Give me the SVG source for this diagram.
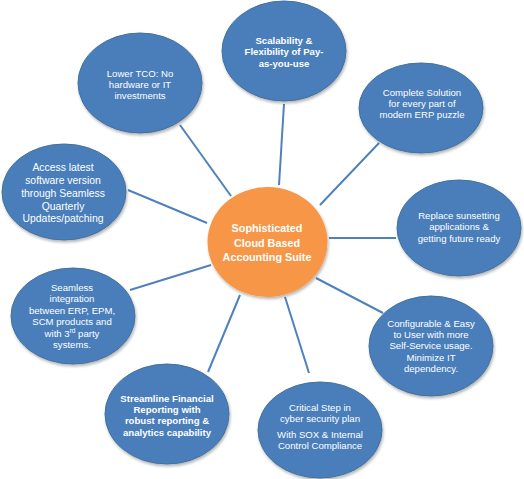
<svg xmlns="http://www.w3.org/2000/svg" width="524" height="479" viewBox="0 0 524 479">
<defs>
<filter id="sh" x="-10%" y="-10%" width="130%" height="130%">
<feGaussianBlur in="SourceAlpha" stdDeviation="1.5"/>
<feOffset dx="1" dy="2" result="b"/>
<feComponentTransfer><feFuncA type="linear" slope="0.3"/></feComponentTransfer>
<feMerge><feMergeNode/><feMergeNode in="SourceGraphic"/></feMerge>
</filter>
</defs>
<style>
.n{fill:#4a7ebb;stroke:#41719c;stroke-width:1;filter:url(#sh)}
.c{fill:#f79646;filter:url(#sh)}
.t{font-family:"Liberation Sans",Arial,sans-serif;font-size:9.6px;fill:#fff;text-anchor:middle}
.b{font-weight:bold}
.ct{font-family:"Liberation Sans",Arial,sans-serif;font-size:10.8px;font-weight:bold;fill:#fff;text-anchor:middle}
.l{stroke:#4f81bd;stroke-width:2;fill:none}
</style>
<rect width="524" height="479" fill="#fff"/>
<g id="connectors">
<line class="l" x1="284" y1="104" x2="279" y2="185"/>
<line class="l" x1="180" y1="125" x2="231" y2="196"/>
<line class="l" x1="379" y1="143" x2="320" y2="205"/>
<line class="l" x1="128" y1="190" x2="207" y2="223"/>
<line class="l" x1="329" y1="238" x2="396" y2="238"/>
<line class="l" x1="130" y1="290" x2="211" y2="265"/>
<line class="l" x1="316" y1="278" x2="383" y2="313"/>
<line class="l" x1="240" y1="295" x2="208" y2="372"/>
<line class="l" x1="285" y1="297" x2="309" y2="373"/>
</g>
<g id="center">
<ellipse class="c" cx="267.5" cy="242" rx="60" ry="55"/>
<text class="ct"><tspan x="267" y="232">Sophisticated</tspan><tspan x="267" y="246.5">Cloud Based</tspan><tspan x="267" y="261">Accounting Suite</tspan></text>
</g>
<g id="scalability">
<ellipse class="n" cx="284" cy="51" rx="62" ry="50"/>
<text class="t b"><tspan x="284" y="43.5">Scalability &amp;</tspan><tspan x="284" y="55">Flexibility of Pay-</tspan><tspan x="284" y="66.5">as-you-use</tspan></text>
</g>
<g id="lower-tco">
<ellipse class="n" cx="140" cy="83" rx="62" ry="50"/>
<text class="t"><tspan x="140" y="76.5">Lower TCO: No</tspan><tspan x="140" y="87.5">hardware or IT</tspan><tspan x="140" y="98.5">investments</tspan></text>
</g>
<g id="complete-solution">
<ellipse class="n" cx="421" cy="108" rx="62" ry="45"/>
<text class="t"><tspan x="422" y="95.5">Complete Solution</tspan><tspan x="422" y="106.5">for every part  of</tspan><tspan x="422" y="118">modern ERP puzzle</tspan></text>
</g>
<g id="access-latest">
<ellipse class="n" cx="64" cy="192" rx="62" ry="48"/>
<text class="t" style="font-size:10.4px"><tspan x="63" y="171">Access latest</tspan><tspan x="63" y="184">software version</tspan><tspan x="63" y="196.5">through Seamless</tspan><tspan x="63" y="209.5">Quarterly</tspan><tspan x="63" y="222">Updates/patching</tspan></text>
</g>
<g id="replace-sunsetting">
<ellipse class="n" cx="459" cy="228" rx="62" ry="48"/>
<text class="t"><tspan x="459" y="219">Replace sunsetting</tspan><tspan x="459" y="230">applications &amp;</tspan><tspan x="459" y="241.5">getting future ready</tspan></text>
</g>
<g id="seamless-integration">
<ellipse class="n" cx="73" cy="316" rx="62" ry="48"/>
<text class="t"><tspan x="72" y="290.5">Seamless</tspan><tspan x="72" y="302">integration</tspan><tspan x="72" y="313.5">between ERP, EPM,</tspan><tspan x="72" y="325">SCM products and</tspan><tspan x="72" y="336.5">with 3<tspan style="font-size:6.5px" dy="-3.5">rd</tspan><tspan dy="3.5"> party</tspan></tspan><tspan x="72" y="347.5">systems.</tspan></text>
</g>
<g id="configurable">
<ellipse class="n" cx="431" cy="346" rx="62" ry="50"/>
<text class="t"><tspan x="431" y="326.5">Configurable &amp; Easy</tspan><tspan x="431" y="337.5">to User with more</tspan><tspan x="431" y="349">Self-Service usage.</tspan><tspan x="431" y="360.5">Minimize IT</tspan><tspan x="431" y="372">dependency.</tspan></text>
</g>
<g id="streamline">
<ellipse class="n" cx="167" cy="414" rx="62" ry="50"/>
<text class="t b"><tspan x="167" y="401.5">Streamline Financial</tspan><tspan x="167" y="412.5">Reporting with</tspan><tspan x="167" y="424">robust reporting &amp;</tspan><tspan x="167" y="435.5">analytics capability</tspan></text>
</g>
<g id="critical-step">
<ellipse class="n" cx="320" cy="430" rx="62" ry="48"/>
<text class="t"><tspan x="320" y="411">Critical Step in</tspan><tspan x="320" y="422">cyber security plan</tspan><tspan x="320" y="438">With SOX &amp; Internal</tspan><tspan x="320" y="449">Control Compliance</tspan></text>
</g>
</svg>
